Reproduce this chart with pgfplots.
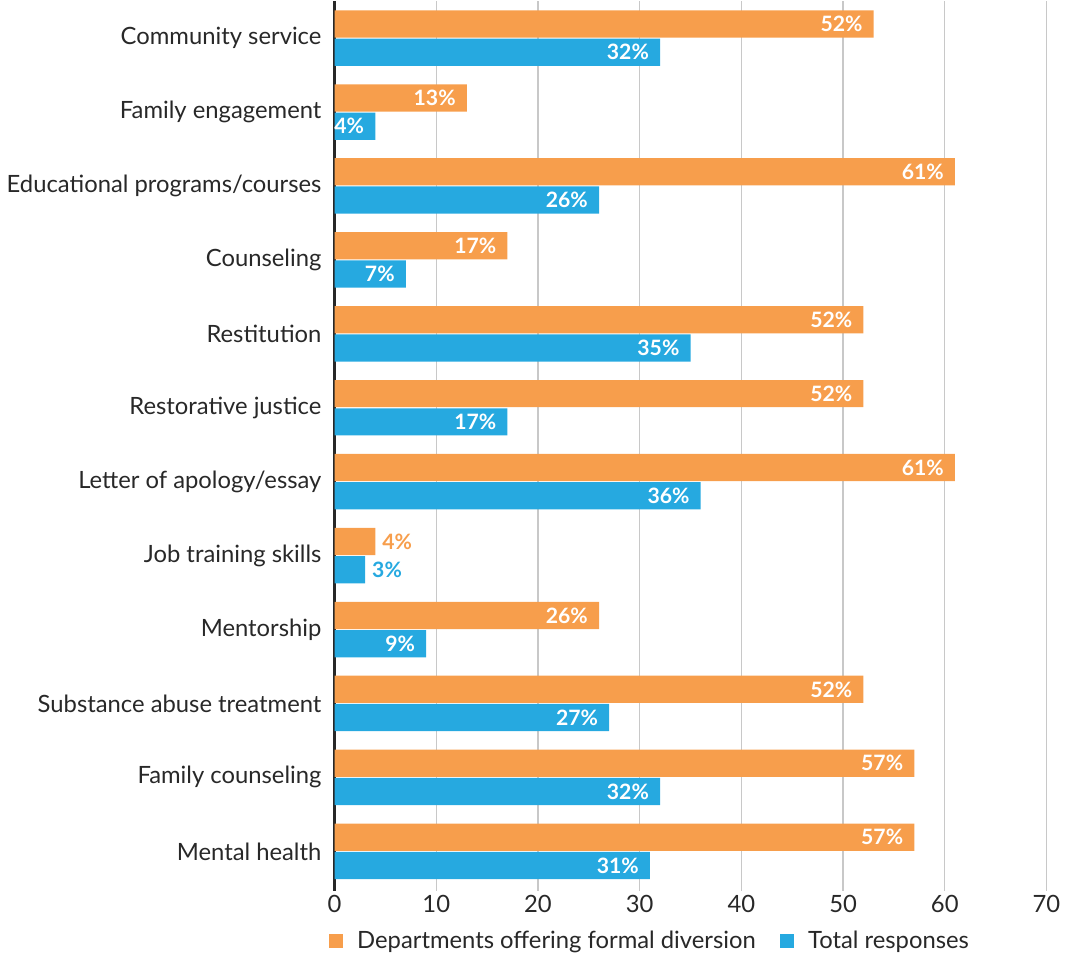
\documentclass[border=0pt]{standalone}
\usepackage{fontspec}
\setmainfont{Lato}
\usepackage{pgfplots}
\usepackage{pgfplotstable}
\pgfplotsset{compat=1.18}
\definecolor{orng}{RGB}{247,158,76}
\definecolor{blu}{RGB}{38,169,224}
\definecolor{txt}{RGB}{40,40,40}
\definecolor{grd}{RGB}{200,200,200}

% y = category index (0 at top), x = bar length, lab = printed label
\pgfplotstableread[col sep=comma]{
y,x,lab
0,53,52\%
1,13,13\%
2,61,61\%
3,17,17\%
4,52,52\%
5,52,52\%
6,61,61\%
7,4,{}
8,26,26\%
9,52,52\%
10,57,57\%
11,57,57\%
}\depts
\pgfplotstableread[col sep=comma]{
y,x,lab
0,32,32\%
1,4,4\%
2,26,26\%
3,7,7\%
4,35,35\%
5,17,17\%
6,36,36\%
7,3,{}
8,9,9\%
9,27,27\%
10,32,32\%
11,31,31\%
}\total
\pgfplotstableread[col sep=comma]{
y,x,lab
7,4,4\%
}\deptsout
\pgfplotstableread[col sep=comma]{
y,x,lab
7,3,3\%
}\totalout

\begin{document}
\begin{tikzpicture}
\begin{axis}[
  scale only axis,
  width=353pt, height=441pt,
  xbar, bar width=13.5pt,
  xmin=0, xmax=70,
  ymin=-0.5, ymax=11.53,
  y dir=reverse,
  xtick={0,10,...,70},
  ytick={0,...,11},
  yticklabels={Community service,Family engagement,Educational programs/courses,Counseling,Restitution,Restorative justice,Letter of apology/essay,Job training skills,Mentorship,Substance abuse treatment,Family counseling,Mental health},
  xmajorgrids, grid style={grd, line width=0.6pt},
  axis lines*=left,
  x axis line style={draw=none},
  y axis line style={txt, line width=1.1pt},
  major tick length=0pt,
  tick label style={font=\fontsize{11.8}{13}\selectfont, text=txt},
  /pgf/number format/assume math mode=true,
  y tick label style={xshift=-3pt},
  x tick label style={anchor=center, yshift=-6.5pt},
  point meta=explicit symbolic,
  nodes near coords,
  every node near coord/.append style={font=\bfseries\fontsize{10.5}{12}\selectfont, text=white, anchor=east, xshift=-2pt},
  legend style={draw=none, at={(0,0)}, anchor=west, xshift=-3pt, yshift=-25pt, legend columns=2,
    font=\fontsize{11.8}{13}\selectfont, text=txt, column sep=5pt, inner sep=0pt,
    /tikz/every even column/.append style={column sep=10pt}},
  legend image code/.code={\fill[#1] (0pt,-3.5pt) rectangle (7pt,3.5pt);},
]
\addplot[fill=orng, draw=none, bar shift=7pt] table[x=x, y=y, meta=lab]{\depts};
\addplot[fill=blu, draw=none, bar shift=-7pt] table[x=x, y=y, meta=lab]{\total};
\addplot[draw=none, fill=none, bar shift=7pt, forget plot,
  every node near coord/.append style={text=orng, anchor=west, xshift=2pt}] table[x=x, y=y, meta=lab]{\deptsout};
\addplot[draw=none, fill=none, bar shift=-7pt, forget plot,
  every node near coord/.append style={text=blu, anchor=west, xshift=2pt}] table[x=x, y=y, meta=lab]{\totalout};
\legend{Departments offering formal diversion, Total responses}
\end{axis}
\end{tikzpicture}
\end{document}
